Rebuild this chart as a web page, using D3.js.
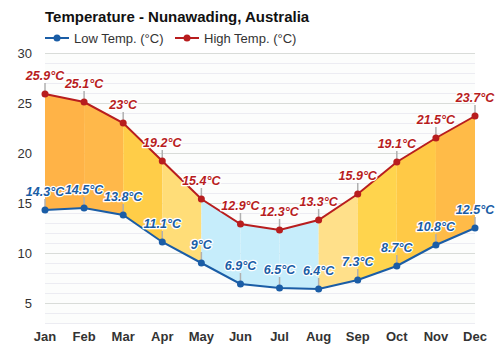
<!DOCTYPE html>
<html><head><meta charset="utf-8">
<script src="https://cdn.jsdelivr.net/npm/d3@7"></script>
<style>body{margin:0;background:#fff}svg{display:block;font-family:"Liberation Sans",Arial,sans-serif}</style>
</head><body><svg id="c" width="500" height="350"></svg>
<script>
const months=["Jan","Feb","Mar","Apr","May","Jun","Jul","Aug","Sep","Oct","Nov","Dec"];
const lowTemps=[14.3,14.5,13.8,11.1,9,6.9,6.5,6.4,7.3,8.7,10.8,12.5];
const highTemps=[25.9,25.1,23,19.2,15.4,12.9,12.3,13.3,15.9,19.1,21.5,23.7];
const segmentColors=["#ffb347","#ffb84a","#ffcd48","#ffdd78","#c6edfb","#c6edfb","#c6edfb","#ffe08a","#ffd44d","#ffc946","#ffbb48"];
const yTicks=[5,10,15,20,25,30];
const title="Temperature - Nunawading, Australia";
const legendLabels=["Low Temp. (°C)","High Temp. (°C)"];

const svg=d3.select("#c");
const x=d3.scalePoint().domain(months).range([45,475]);
const y=d3.scaleLinear().domain([3,30]).range([323,53]);
const lowC="#1a5da6", highC="#b81d1e";

svg.append("rect").attr("x",45).attr("y",53).attr("width",430).attr("height",270).attr("fill","#fcfdfc");
// minor grid
svg.append("g").selectAll("line").data(d3.range(3,31)).join("line")
 .attr("x1",45).attr("x2",475).attr("y1",d=>y(d)+0.5).attr("y2",d=>y(d)+0.5)
 .attr("stroke",d=>d%5===0?"#d9dcd9":"#ececf2").attr("stroke-width",1);

// fills
const pairs=months.slice(0,-1).map((m,i)=>i);
svg.append("g").selectAll("path").data(pairs).join("path")
 .attr("d",i=>{const a=months[i],b=months[i+1];
   return `M${x(a)},${y(highTemps[i])}L${x(b)},${y(highTemps[i+1])}L${x(b)},${y(lowTemps[i+1])}L${x(a)},${y(lowTemps[i])}Z`;})
 .attr("fill",i=>segmentColors[i]);

// label tick lines
const drawTicks=(vals)=>svg.append("g").selectAll("line").data(vals).join("line")
 .attr("x1",(d,i)=>x(months[i])).attr("x2",(d,i)=>x(months[i]))
 .attr("y1",d=>y(d)).attr("y2",d=>y(d)-11).attr("stroke","#b0b0b0").attr("stroke-width",1.5);
drawTicks(lowTemps);drawTicks(highTemps);

const line=d3.line().x((d,i)=>x(months[i])).y(d=>y(d));
const drawSeries=(vals,c)=>{
 svg.append("path").datum(vals).attr("d",line).attr("fill","none").attr("stroke",c).attr("stroke-width",2);
 svg.append("g").selectAll("circle").data(vals).join("circle")
  .attr("cx",(d,i)=>x(months[i])).attr("cy",d=>y(d)).attr("r",3.5).attr("fill",c);
};
drawSeries(lowTemps,lowC);drawSeries(highTemps,highC);

const drawLabels=(vals,c)=>svg.append("g").selectAll("text").data(vals).join("text")
 .attr("x",(d,i)=>x(months[i])).attr("y",d=>y(d)-14).attr("text-anchor","middle")
 .attr("font-size",12.5).attr("font-weight","bold").attr("font-style","italic")
 .attr("fill",c).attr("stroke","#fff").attr("stroke-width",2.5).attr("paint-order","stroke")
 .attr("stroke-linejoin","round").text(d=>d+"°C");
drawLabels(lowTemps,lowC);drawLabels(highTemps,highC);

// axes text
svg.append("g").selectAll("text").data(yTicks).join("text")
 .attr("x",32).attr("y",d=>y(d)+5).attr("text-anchor","end").attr("font-size",13).attr("fill","#333").text(d=>d);
svg.append("g").selectAll("text").data(months).join("text")
 .attr("x",d=>x(d)).attr("y",341).attr("text-anchor","middle").attr("font-size",13).attr("font-weight","bold").attr("fill","#333").text(d=>d);

svg.append("text").attr("x",45).attr("y",22).attr("font-size",15).attr("font-weight","bold").attr("fill","#111").text(title);
const lg=svg.append("g");
[[45,lowC,legendLabels[0]],[175,highC,legendLabels[1]]].forEach(([lx,c,t])=>{
 lg.append("line").attr("x1",lx).attr("x2",lx+24).attr("y1",38).attr("y2",38).attr("stroke",c).attr("stroke-width",2);
 lg.append("circle").attr("cx",lx+12).attr("cy",38).attr("r",3.5).attr("fill",c);
 lg.append("text").attr("x",lx+29).attr("y",43).attr("font-size",13).attr("fill","#333").text(t);
});
</script></body></html>
